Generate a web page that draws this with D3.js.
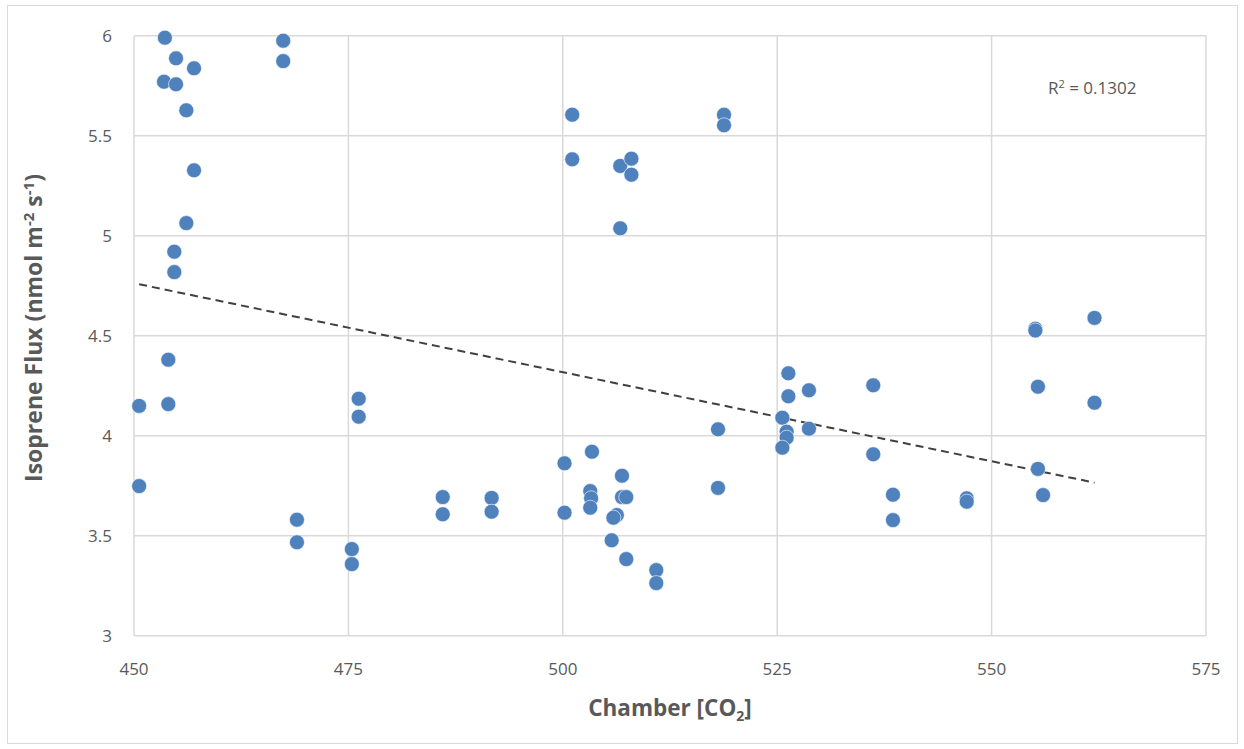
<!DOCTYPE html>
<html lang="en">
<head>
  <meta charset="UTF-8">
  <title>Isoprene flux vs chamber CO2</title>
  <script type="text/javascript" src="https://d3js.org/d3.v7.min.js"></script>
  <style>
    body { margin: 0; background: #fff; }
    text { font-family: "Open Sans", "Noto Sans", sans-serif; fill: #595959; }
    .grid line { stroke: #d9d9d9; stroke-width: 1.5; }
    .dot { fill: #4f81bd; stroke: #fff; stroke-width: 0.6; }
    .trend { stroke: #404040; stroke-width: 2; stroke-dasharray: 8,5; fill: none; }
  </style>
</head>
<body>
  <svg></svg>
  <script type="text/javascript">

  // chamber CO2 and isoprene flux
  var co2 = [
    453.6, 454.9, 457.0, 453.5, 454.9, 456.1, 457.0, 456.1, 454.7, 454.7,
    467.4, 467.4, 454.0, 450.6, 454.0, 450.6, 469.0, 469.0, 475.4, 475.4,
    476.2, 476.2, 486.0, 486.0, 491.7, 491.7, 500.2, 500.2, 503.4, 503.2,
    503.3, 503.2, 506.9, 506.9, 507.4, 506.3, 505.9, 505.7, 507.4, 510.9,
    510.9, 501.1, 501.1, 506.7, 508.0, 508.0, 506.7, 518.8, 518.8, 518.1,
    518.1, 526.3, 526.3, 528.7, 525.6, 526.1, 526.1, 525.6, 528.7, 536.2,
    536.2, 538.5, 538.5, 547.1, 547.1, 555.1, 555.1, 555.4, 555.4, 556.0,
    562.0, 562.0
  ];
  var flux = [
    5.990, 5.887, 5.837, 5.770, 5.757, 5.627, 5.327, 5.063, 4.920, 4.818,
    5.975, 5.873, 4.380, 4.149, 4.158, 3.748, 3.580, 3.467, 3.433, 3.358,
    4.185, 4.095, 3.693, 3.607, 3.689, 3.620, 3.862, 3.615, 3.920, 3.723,
    3.687, 3.640, 3.800, 3.693, 3.693, 3.603, 3.590, 3.477, 3.383, 3.328,
    3.263, 5.605, 5.382, 5.349, 5.385, 5.305, 5.037, 5.605, 5.552, 4.032,
    3.739, 4.312, 4.197, 4.227, 4.090, 4.020, 3.990, 3.940, 4.035, 4.252,
    3.907, 3.705, 3.578, 3.687, 3.670, 4.535, 4.526, 4.245, 3.834, 3.703,
    4.589, 4.165
  ];
  var xTicks = [450, 475, 500, 525, 550, 575];
  var yTicks = [3, 3.5, 4, 4.5, 5, 5.5, 6];
  // trendline as drawn in the picture
  var trendSlope = -0.008905, trendIntercept = 8.770;
  var rSquared = "0.1302";

  var W = 1244, H = 749,
    pL = 134, pR = 1206, pT = 35.7, pB = 635.7;

  var svg = d3.select("svg").attr("width", W).attr("height", H);

  // outer chart frame
  svg.append("rect").attr("x", 7.5).attr("y", 5.5)
    .attr("width", 1230).attr("height", 738)
    .attr("fill", "none").attr("stroke", "#d9d9d9").attr("stroke-width", 1);

  var x = d3.scaleLinear().domain([450, 575]).range([pL, pR]);
  var y = d3.scaleLinear().domain([3, 6]).range([pB, pT]);

  var grid = svg.append("g").attr("class", "grid");
  grid.selectAll("line.v").data(xTicks).enter().append("line").attr("class", "v")
    .attr("x1", d => x(d)).attr("x2", d => x(d))
    .attr("y1", pT).attr("y2", pB);
  grid.selectAll("line.h").data(yTicks).enter().append("line").attr("class", "h")
    .attr("x1", pL).attr("x2", pR)
    .attr("y1", d => y(d)).attr("y2", d => y(d));

  // tick labels
  svg.append("g").selectAll("text").data(yTicks).enter().append("text")
    .attr("x", pL - 22).attr("y", d => y(d)).attr("dy", ".35em")
    .attr("text-anchor", "end").style("font-size", "17px")
    .text(d => d);
  svg.append("g").selectAll("text").data(xTicks).enter().append("text")
    .attr("x", d => x(d)).attr("y", pB + 33).attr("dy", ".35em")
    .attr("text-anchor", "middle").style("font-size", "17px")
    .text(d => d);

  // linear trendline over the data range
  var xr = d3.extent(co2);
  svg.append("line").attr("class", "trend")
    .attr("x1", x(xr[0])).attr("y1", y(trendIntercept + trendSlope * xr[0]))
    .attr("x2", x(xr[1])).attr("y2", y(trendIntercept + trendSlope * xr[1]));

  svg.append("g").selectAll("circle").data(co2).enter().append("circle")
    .attr("class", "dot")
    .attr("cx", d => x(d))
    .attr("cy", (d, i) => y(flux[i]))
    .attr("r", 7.5);

  var r2 = svg.append("text").attr("x", 1048).attr("y", 94).style("font-size", "17px");
  r2.append("tspan").text("R");
  r2.append("tspan").attr("dy", -6).style("font-size", "11px").text("2");
  r2.append("tspan").attr("dy", 6).text(" = " + rSquared);

  // axis titles
  var xt = svg.append("text").attr("x", (pL + pR) / 2).attr("y", 716)
    .attr("text-anchor", "middle").style("font-size", "22.5px").style("font-weight", "bold");
  xt.append("tspan").text("Chamber [CO");
  xt.append("tspan").attr("dy", 5).style("font-size", "14px").text("2");
  xt.append("tspan").attr("dy", -5).text("]");

  var yt = svg.append("text")
    .attr("transform", "translate(42,328)rotate(-90)")
    .attr("text-anchor", "middle").style("font-size", "23px").style("font-weight", "bold");
  yt.append("tspan").text("Isoprene Flux (nmol m");
  yt.append("tspan").attr("dy", -8).style("font-size", "15px").text("-2");
  yt.append("tspan").attr("dy", 8).text(" s");
  yt.append("tspan").attr("dy", -8).style("font-size", "15px").text("-1");
  yt.append("tspan").attr("dy", 8).text(")");

  </script>
</body>
</html>
